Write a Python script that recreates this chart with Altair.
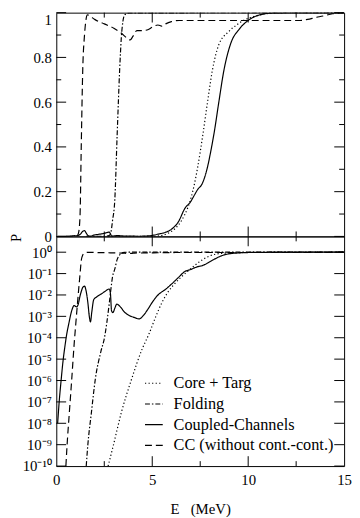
import json
import altair as alt
import pandas as pd

# ---------------- data ----------------
series_names = ["Core + Targ", "Folding", "Coupled-Channels", "CC (without cont.-cont.)"]

E_core = [2.7, 2.97, 3.39, 3.9, 4.49, 4.83, 5.17, 5.51, 5.85, 6.19, 6.52, 6.86, 7.03, 7.2,
          7.37, 7.63, 7.88, 8.13, 8.47, 8.98, 9.4, 9.75, 10.2, 10.6, 11.5, 13.0, 15.0]
P_core = [1e-10, 9e-10, 3.2e-8, 1e-6, 3.2e-5, 1.5e-4, 9e-4, 4.5e-3, 0.015, 0.035, 0.07, 0.13, 0.175, 0.235,
          0.31, 0.45, 0.60, 0.74, 0.857, 0.915, 0.945, 0.965, 0.98, 0.99, 0.999, 1.0, 1.0]

E_fold = [1.56, 1.64, 1.83, 2.03, 2.32, 2.51, 2.76, 2.85, 2.93, 3.05, 3.17, 3.3, 3.39, 3.47, 3.56, 3.8, 15.0]
P_fold = [1e-10, 9e-10, 3.2e-8, 1.1e-6, 2.2e-5, 1e-4, 4e-3, 0.02, 0.07, 0.165, 0.45, 0.74, 0.89, 0.96, 0.99, 0.999, 1.0]

E_cc = [0.07, 0.15, 0.25, 0.35, 0.45, 0.55, 0.65, 0.8, 0.93, 1.05, 1.12, 1.25, 1.4, 1.47, 1.55, 1.65,
        1.72, 1.78, 1.85, 1.95, 2.1, 2.25, 2.4, 2.55, 2.68, 2.76, 2.82, 2.88, 2.95, 3.05, 3.15, 3.35,
        3.55, 3.8, 4.05, 4.32, 4.5, 4.75, 5.0, 5.3, 5.68, 6.0, 6.36, 6.7, 7.0, 7.2, 7.37, 7.6, 7.88,
        8.05, 8.22, 8.47, 8.73, 9.07, 9.57, 10.0, 10.6, 11.4, 13.0, 15.0]
P_cc = [1e-8, 1e-7, 1e-6, 8e-6, 4e-5, 1.6e-4, 4.5e-4, 1.8e-3, 3.2e-3, 2.8e-3, 3.2e-3, 1e-2, 2.4e-2, 2.6e-2,
        1.6e-2, 4e-3, 1e-3, 5.5e-4, 1.6e-3, 6e-3, 8e-3, 1e-2, 1.2e-2, 1.5e-2, 1.8e-2, 1.9e-2, 1.2e-2,
        1.8e-3, 1.5e-3, 2.4e-3, 3.7e-3, 2.7e-3, 1.6e-3, 1.1e-3, 9e-4, 7.6e-4, 1e-3, 2e-3, 4.5e-3,
        1e-2, 1.8e-2, 3.2e-2, 6.5e-2, 0.125, 0.155, 0.185, 0.21, 0.235, 0.31, 0.38, 0.46, 0.60, 0.74,
        0.857, 0.93, 0.965, 0.99, 0.999, 1.0, 1.0]

E_ccw = [0.5, 0.56, 0.68, 0.8, 0.93, 1.02, 1.1, 1.17, 1.24, 1.3, 1.38, 1.47, 1.55, 1.62, 1.75, 2.0,
         2.5, 3.0, 3.4, 3.7, 3.85, 4.0, 4.2, 4.5, 4.8, 5.0, 5.3, 5.5, 5.7, 6.0, 6.4, 8.0, 10.0, 12.7,
         13.1, 13.5, 13.9, 14.4, 15.0]
P_ccw = [1e-10, 9e-10, 3.2e-8, 1e-6, 5e-5, 5e-4, 3.7e-3, 0.02, 0.1, 0.4, 0.75, 0.9, 0.97, 0.99, 0.985,
         0.97, 0.95, 0.93, 0.908, 0.885, 0.878, 0.895, 0.92, 0.92, 0.925, 0.935, 0.945, 0.94, 0.95,
         0.96, 0.965, 0.965, 0.965, 0.965, 0.97, 0.978, 0.985, 0.995, 1.0]

dash_patterns = [[1.2, 2.4], [5, 2, 1.5, 2], [1, 0], [7, 4]]

# tick values / labels
lin_major = [0, 0.2, 0.4, 0.6, 0.8, 1]
lin_minor = [0.1, 0.3, 0.5, 0.7, 0.9]
log_major = [1e-10, 1e-9, 1e-8, 1e-7, 1e-6, 1e-5, 1e-4, 1e-3, 1e-2, 1e-1, 1e0]
x_major = [5, 10]
x_minor = [2.5, 7.5, 12.5]
x_labels = [0, 5, 10, 15]
sup = {"-": "\u207b", "0": "\u2070", "1": "\u00b9", "2": "\u00b2", "3": "\u00b3", "4": "\u2074",
       "5": "\u2075", "6": "\u2076", "7": "\u2077", "8": "\u2078", "9": "\u2079"}
log_labels = ["10" + "".join(sup[c] for c in str(k)) for k in range(-10, 1)]

# ---------------- build tables ----------------
rows = []
for name, Es, Ps in zip(series_names, [E_core, E_fold, E_cc, E_ccw], [P_core, P_fold, P_cc, P_ccw]):
    for e, p in zip(Es, Ps):
        rows.append({"E": e, "P": p, "series": name})
df = pd.DataFrame(rows)

W, H1, H2 = 292, 227, 233
FONT = "Liberation Serif"

xscale = alt.Scale(domain=[0, 15], nice=False, zero=False)
y1scale = alt.Scale(domain=[0, 1], nice=False, zero=False)
y2scale = alt.Scale(type="log", domain=[1e-10, 5.47], nice=False)
dash_scale = alt.Scale(domain=series_names, range=dash_patterns)

y1axis = alt.Axis(values=lin_major, format="~g", domain=False, ticks=False, grid=False,
                  labelFont=FONT, labelFontSize=15, labelColor="black", labelPadding=5,
                  labelBaseline={"condition": {"test": "datum.value == 1", "value": "top"}, "value": "middle"},
                  title="P", titleFont=FONT, titleFontSize=15, titleFontWeight="normal",
                  titleColor="black", titleX=-33, titleY=H1 + 1)
y2axis = alt.Axis(values=log_major, domain=False, ticks=False, grid=False,
                  labelExpr=json.dumps(log_labels, ensure_ascii=False) + "[round(log(datum.value)/LN10)+10]",
                  labelFont=FONT, labelFontSize=15, labelColor="black", labelPadding=5, title=None)
x2axis = alt.Axis(values=x_labels, domain=False, ticks=False, grid=False, labelFlush=False,
                  labelFont=FONT, labelFontSize=15, labelColor="black", labelPadding=7,
                  title="E\u00a0\u00a0\u00a0(MeV)", titleFont=FONT, titleFontSize=15,
                  titleFontWeight="normal", titleColor="black", titlePadding=14)


def tick_layers(yscale, yaxis, xaxis, H, ymaj, ymin):
    layers = []
    for vals, L in [(ymaj, 10), (ymin, 5)]:
        d = pd.DataFrame({"P": vals})
        layers.append(alt.Chart(d).mark_rule(color="black", strokeWidth=1).encode(
            x=alt.value(0), x2=alt.value(L), y=alt.Y("P:Q", scale=yscale, axis=yaxis)))
        layers.append(alt.Chart(d).mark_rule(color="black", strokeWidth=1).encode(
            x=alt.value(W - L), x2=alt.value(W), y=alt.Y("P:Q", scale=yscale, axis=yaxis)))
    for vals, L in [(x_major, 10), (x_minor, 5)]:
        d = pd.DataFrame({"E": vals})
        layers.append(alt.Chart(d).mark_rule(color="black", strokeWidth=1).encode(
            y=alt.value(0), y2=alt.value(L), x=alt.X("E:Q", scale=xscale, axis=xaxis)))
        layers.append(alt.Chart(d).mark_rule(color="black", strokeWidth=1).encode(
            y=alt.value(H - L), y2=alt.value(H), x=alt.X("E:Q", scale=xscale, axis=xaxis)))
    return layers


line_top = alt.Chart(df).mark_line(color="black", strokeWidth=1.2, clip=True, interpolate="monotone").encode(
    x=alt.X("E:Q", scale=xscale, axis=None),
    y=alt.Y("P:Q", scale=y1scale, axis=y1axis),
    strokeDash=alt.StrokeDash("series:N", scale=dash_scale, legend=None, sort=series_names),
)
top = alt.layer(line_top, *tick_layers(y1scale, y1axis, None, H1, lin_major, lin_minor)).properties(
    width=W, height=H1)

legend = alt.Legend(orient="none", legendX=89, legendY=139, title=None, symbolType="stroke",
                    symbolStrokeColor="black", symbolStrokeWidth=1.2, symbolSize=324,
                    labelFont=FONT, labelFontSize=16.5, labelColor="black", labelOffset=10,
                    labelLimit=400, rowPadding=2, padding=0)
line_bot = alt.Chart(df).mark_line(color="black", strokeWidth=1.2, clip=True, interpolate="monotone").encode(
    x=alt.X("E:Q", scale=xscale, axis=x2axis),
    y=alt.Y("P:Q", scale=y2scale, axis=y2axis),
    strokeDash=alt.StrokeDash("series:N", scale=dash_scale, legend=legend, sort=series_names),
)
bottom = alt.layer(line_bot, *tick_layers(y2scale, y2axis, x2axis, H2, log_major, [])).properties(
    width=W, height=H2)

chart = alt.vconcat(top, bottom, spacing=0, bounds="flush").resolve_scale(
    x="shared", y="independent", strokeDash="independent"
).properties(
    padding={"left": 0, "top": 0, "right": 0, "bottom": 0}, background="white"
).configure_view(stroke="black", strokeWidth=1)

chart.save("out.html", embed_options={"renderer": "svg", "actions": False})
